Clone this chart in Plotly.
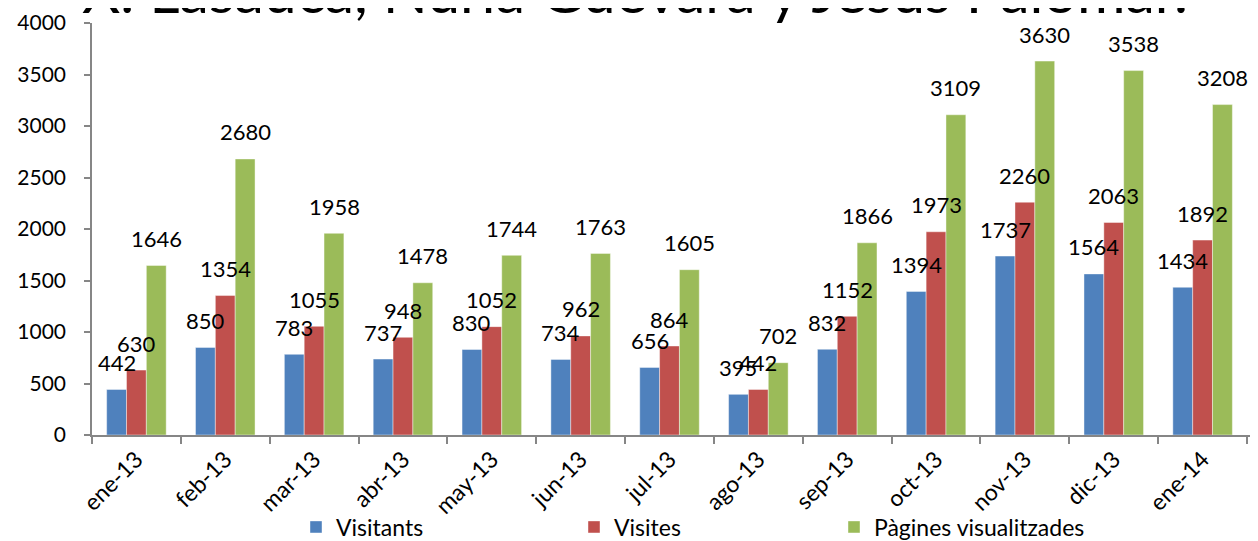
import plotly.graph_objects as go

months = ["ene-13", "feb-13", "mar-13", "abr-13", "may-13", "jun-13", "jul-13",
          "ago-13", "sep-13", "oct-13", "nov-13", "dic-13", "ene-14"]
visitants = [442, 850, 783, 737, 830, 734, 656, 395, 832, 1394, 1737, 1564, 1434]
visites = [630, 1354, 1055, 948, 1052, 962, 864, 442, 1152, 1973, 2260, 2063, 1892]
pagines = [1646, 2680, 1958, 1478, 1744, 1763, 1605, 702, 1866, 3109, 3630, 3538, 3208]

series_names = ["Visitants", "Visites", "Pàgines visualitzades"]
series_values = [visitants, visites, pagines]
colors = ["#4F81BD", "#C0504D", "#9BBB59"]
title_text = "X. Lasauca, Nuria Guevara y Jesús Palomar."

FONT = "Lato"
OFF = 8  # default page body margin of the html page
W, H = 1258, 541
PLOT_L, PLOT_T, PLOT_W, PLOT_H = 92, 23, 1158, 412  # target on-screen plot area
ML = PLOT_L - OFF
MT = PLOT_T - OFF
MR = W - ML - PLOT_W
MB = H - MT - PLOT_H
BARGAP = 0.33
bar_px = PLOT_W / len(months) * (1 - BARGAP) / 3

fig = go.Figure()
legend_keys = ["legend", "legend2", "legend3"]
for i, (name, vals, col) in enumerate(zip(series_names, series_values, colors)):
    fig.add_trace(go.Bar(
        x=months, y=vals, name=name,
        marker=dict(color=col, line=dict(width=0.6, color="rgba(255,255,255,0.7)")),
        legend=legend_keys[i],
    ))
    for j, v in enumerate(vals):
        fig.add_annotation(
            x=months[j], y=v, xref="x", yref="y", text=str(v), showarrow=False,
            xshift=(i - 1) * bar_px, yshift=27,
            yanchor="middle", xanchor="center",
            font=dict(family=FONT, size=22, color="#000000"),
        )

fig.add_annotation(
    x=(80 - PLOT_L) / PLOT_W, y=1 + (PLOT_T - 28) / PLOT_H, xref="paper", yref="paper",
    text=title_text, showarrow=False, xanchor="left", yanchor="bottom",
    font=dict(family=FONT, size=59, color="#000000"),
)

legend_x = [310, 588, 848]
legend_common = dict(orientation="h", yanchor="middle", xanchor="left",
                     xref="container", yref="container", y=1 - (527 - OFF) / H,
                     font=dict(family=FONT, size=23, color="#000000"),
                     bgcolor="rgba(0,0,0,0)", itemwidth=30, tracegroupgap=0)
layout_legends = {}
for k, lx in zip(legend_keys, legend_x):
    layout_legends[k] = dict(x=(lx - 14 - OFF) / W, **legend_common)

fig.update_layout(
    width=W, height=H,
    margin=dict(l=ML, r=MR, t=MT, b=MB, autoexpand=False),
    paper_bgcolor="white", plot_bgcolor="white",
    barmode="group", bargap=BARGAP, bargroupgap=0,
    showlegend=True,
    font=dict(family=FONT, size=20, color="#000000"),
    **layout_legends,
)
fig.update_xaxes(
    type="category", showgrid=False, showline=True, linecolor="#868686", linewidth=1.5,
    ticks="outside", tickson="boundaries", ticklen=7, tickcolor="#868686", tickwidth=1.5,
    tickangle=-45, tickfont=dict(family=FONT, size=23, color="#000000"), automargin=False,
)
fig.update_yaxes(
    range=[0, 4000], dtick=500, showgrid=False, zeroline=False, showline=True,
    linecolor="#868686", linewidth=1.5, ticks="outside", ticklen=6, tickcolor="#868686",
    tickwidth=1.5, ticklabelstandoff=14, tickfont=dict(family=FONT, size=21, color="#000000"),
    automargin=False,
)

fig.write_html("out.html")
